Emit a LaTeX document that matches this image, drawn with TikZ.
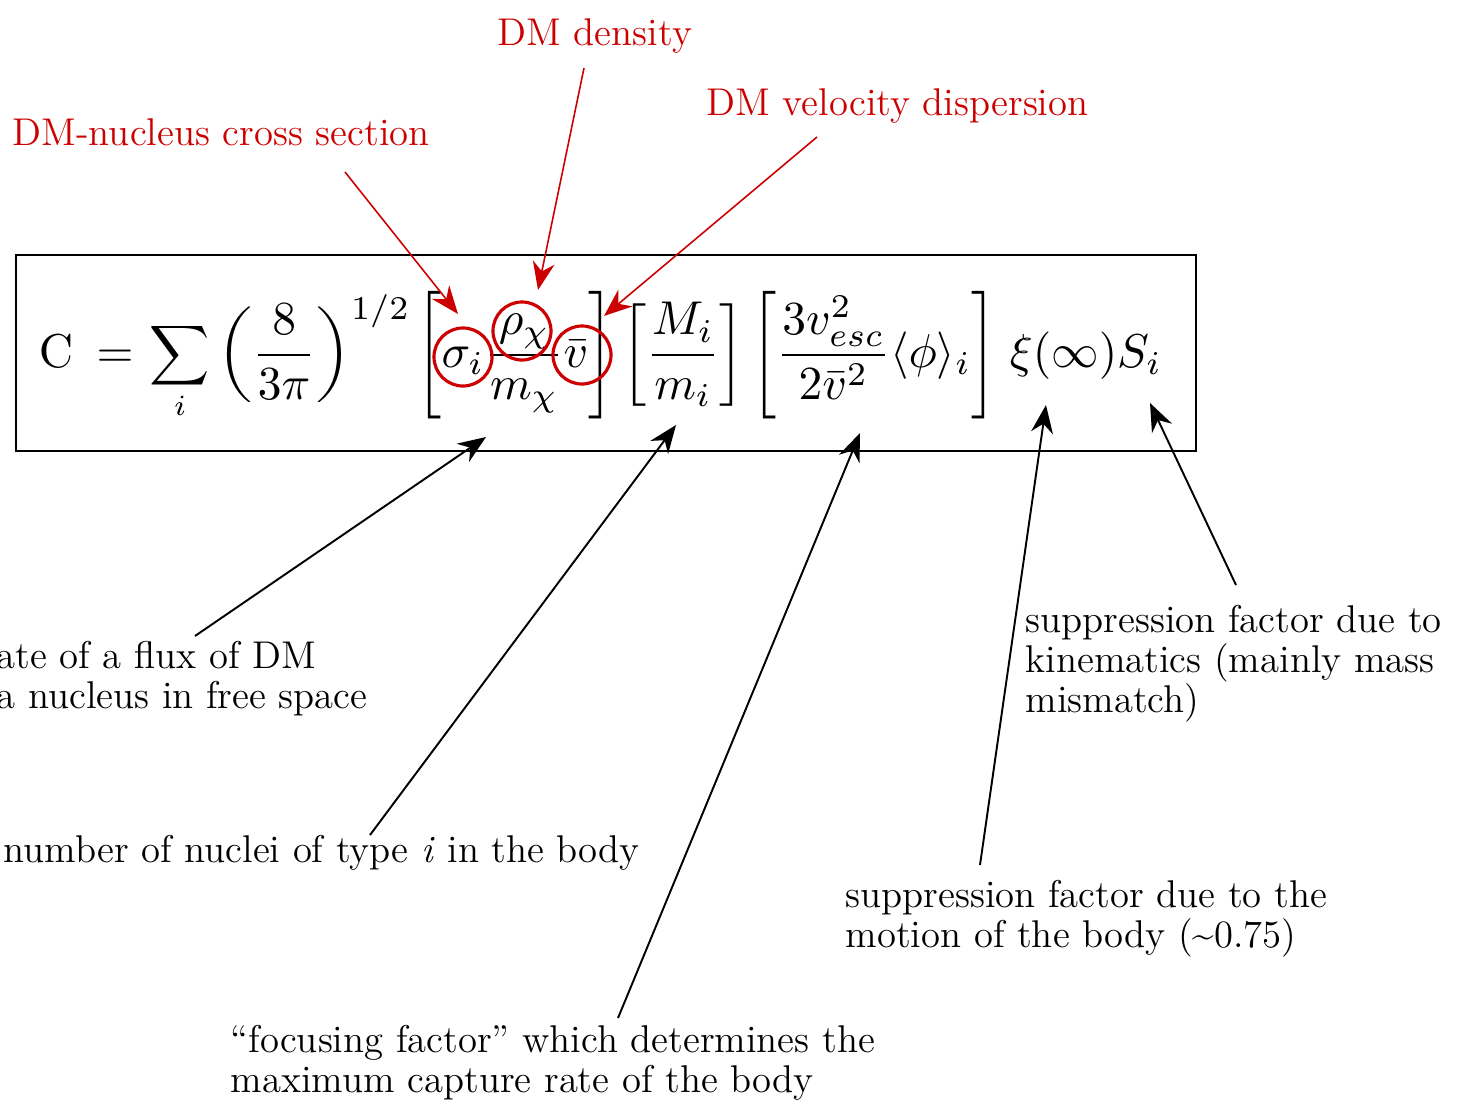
\documentclass[tikz,border=0pt]{standalone}
\usepackage{amsmath}
\usepackage{graphicx}
\usepackage{tikz}
\usetikzlibrary{arrows.meta}
\usetikzlibrary{scopes}

\definecolor{dmred}{RGB}{204,0,0}
% a delimiter stretched to a given height factor
\newcommand{\sdelim}[2]{\vcenter{\hbox{\scalebox{1}[#1]{$#2$}}}}

\begin{document}
\begin{tikzpicture}[x=0.01cm, y=-0.01cm,
		formula/.style={inner sep=0pt, anchor=base, scale=1.35},
		note/.style={font=\fontsize{11}{11.3}\selectfont, align=left, inner sep=0pt, anchor=base west},
		ring/.style={circle, draw, line width=0.9pt, inner sep=0pt, minimum size=0.58cm},
		pointer/.style={-{Stealth[length=2.8mm,width=2.2mm]}, line width=0.55pt}]
	\useasboundingbox (0,0) rectangle (1472,1112);
	% the capture rate
	\draw[line width=0.6pt] (16,255) rectangle (1196,451);
	\node[formula] (C) at (56,367) {$\mathrm{C}$};
	\node[formula] (eq) at (115,367) {$=$};
	\node[formula, scale=0.88] (sum) at (180,366) {$\displaystyle\sum_i$};
	\node[formula] (pref) at (314,367) {$\displaystyle\sdelim{0.84}{\biggl(}\frac{8}{3\pi}\sdelim{0.84}{\biggr)}^{1/2}$};
	\node[formula] (rate) at (515,367) {$\displaystyle\sdelim{1.12}{\biggl[}\sigma_i\frac{\rho_\chi}{m_\chi}\bar{v}\sdelim{1.12}{\biggr]}$};
	\node[formula] (mass) at (683,367) {$\displaystyle\sdelim{0.9}{\biggl[}\frac{M_i}{m_i}\sdelim{0.9}{\biggr]}$};
	\node[formula] (focusing) at (874,367) {$\displaystyle\sdelim{1.12}{\biggl[}\frac{3v_{esc}^2}{2\bar{v}^2}\langle\phi\rangle_i\sdelim{1.12}{\biggr]}$};
	\node[formula] (supp) at (1086,367) {$\xi(\infty)S_i$};
	% red part
	\begin{scope}[dmred]
		\node[note] (xsec) at (12,145) {DM-nucleus cross section};
		\node[note] (dens) at (497,45) {DM density};
		\node[note] (disp) at (706,115) {DM velocity dispersion};
		\node[ring] (sig) at (463,357) {};
		\node[ring] (rho) at (522,331) {};
		\node[ring] (vbar) at (582,355) {};
		\coordinate (xsec end) at (345,172);
		\coordinate (dens end) at (584,68);
		\coordinate (disp end) at (817,137);
		\coordinate (sig tip) at (458,314);
		\coordinate (rho tip) at (538,290);
		\coordinate (vbar tip) at (604,316);
		\draw[pointer, line width=0.45pt] (xsec end) -- (sig tip);
		\draw[pointer, line width=0.45pt] (dens end) -- (rho tip);
		\draw[pointer, line width=0.45pt] (disp end) -- (vbar tip);
	\end{scope}
	% black part
	\begin{scope}[black]
		\node[note] (flux) at (-4,708) {ate of a flux of DM\\a nucleus in free space};
		\node[note] (nuc) at (3,862) {number of nuclei of type \textit{i} in the body};
		\node[note] (focus) at (230,1092) {``focusing factor'' which determines the\\maximum capture rate of the body};
		\node[note] (motion) at (845,947) {suppression factor due to the\\motion of the body (\textasciitilde0.75)};
		\node[note] (kin) at (1025,712) {suppression factor due to\\kinematics (mainly mass\\mismatch)};
		\coordinate (flux end) at (195,636);
		\coordinate (nuc end) at (370,835);
		\coordinate (focus end) at (618,1018);
		\coordinate (motion end) at (980,865);
		\coordinate (kin end) at (1236,585);
		\coordinate (flux tip) at (486,437);
		\coordinate (nuc tip) at (676,425);
		\coordinate (focus tip) at (860,433);
		\coordinate (motion tip) at (1046,405);
		\coordinate (kin tip) at (1150,403);
		\draw[pointer] (flux end) -- (flux tip);
		\draw[pointer] (nuc end) -- (nuc tip);
		\draw[pointer] (focus end) -- (focus tip);
		\draw[pointer] (motion end) -- (motion tip);
		\draw[pointer] (kin end) -- (kin tip);
	\end{scope}
\end{tikzpicture}
\end{document}
